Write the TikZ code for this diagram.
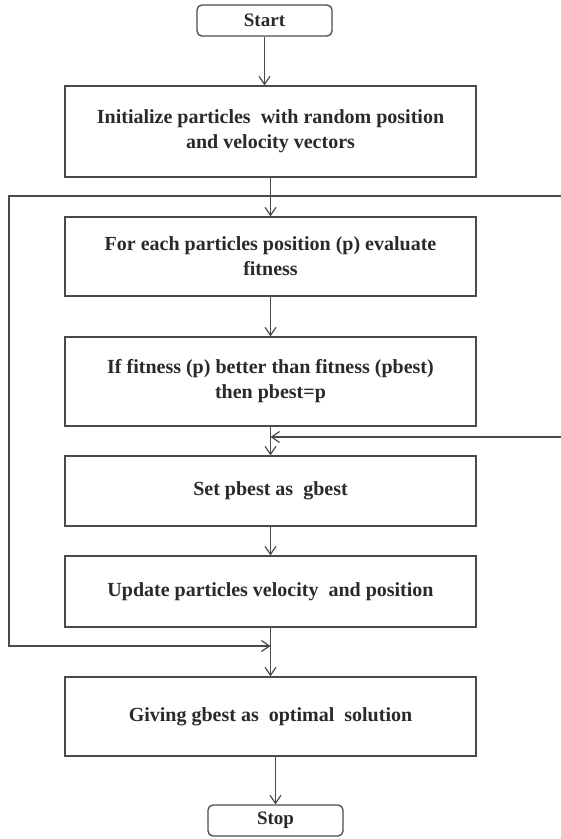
\documentclass[tikz,border=0pt]{standalone}
\usepackage{fontspec}
\setmainfont{Liberation Serif}
\usetikzlibrary{arrows.meta}
\definecolor{linec}{HTML}{4A4A4A}
\definecolor{textc}{HTML}{2A2A2A}
\begin{document}
\begin{tikzpicture}[x=1pt,y=1pt,
  box/.style={draw=linec, line width=1.3pt, minimum width=411pt, align=center, text=textc,
    font=\fontsize{20}{25}\selectfont\bfseries, inner sep=0pt},
  term/.style={draw=linec, line width=1.3pt, rounded corners=5pt, minimum width=135pt, minimum height=31pt,
    text=textc, font=\fontsize{19}{22}\selectfont\bfseries, inner sep=0pt},
  conn/.style={draw=linec, line width=1.2pt, -{Straight Barb[length=8pt,width=11pt,line width=1.2pt]}},
  plain/.style={draw=linec, line width=1.2pt}]
\useasboundingbox (0,0) rectangle (561,-839);
\fill[white] (0,0) rectangle (561,-839);

\node[term] (start) at (264.5,-20.5) {Start};
\node[box, minimum height=91pt] (init) at (270.5,-131.5) {Initialize particles\ \ with random position\\and velocity vectors};
\node[box, minimum height=79pt] (eval) at (270.5,-256.5) {For each particles position (p) evaluate\\fitness};
\node[box, minimum height=89pt] (cmp) at (270.5,-381.5) {If fitness (p) better than fitness (pbest)\\then pbest=p};
\node[box, minimum height=70pt] (setg) at (270.5,-491) {Set pbest as\ \ gbest};
\node[box, minimum height=71pt] (upd) at (270.5,-591.5) {Update particles velocity\ \ and position};
\node[box, minimum height=79pt] (give) at (270.5,-716.5) {Giving gbest as\ \ optimal\ \ solution};
\node[term] (stop) at (275.5,-820.5) {Stop};

\coordinate (jtop) at (270.5,-196);
\coordinate (jmid) at (270.5,-437);
\coordinate (jbot) at (270.5,-646);
\coordinate (ltop) at (9,-196);
\coordinate (lbot) at (9,-646);
\coordinate (rtop) at (563,-196);
\coordinate (rmid) at (563,-437);

\draw[conn] (start.south) -- (start.south |- init.north);
\draw[conn] (init.south) -- (eval.north);
\draw[conn] (eval.south) -- (cmp.north);
\draw[conn] (cmp.south) -- (setg.north);
\draw[conn] (setg.south) -- (upd.north);
\draw[conn] (upd.south) -- (give.north);
\draw[conn] (give.south -| stop.north) -- (stop.north);

\draw[conn] (jtop) -- (ltop) -- (lbot) -- (jbot);
\draw[conn] (jtop) -- (rtop) -- (rmid) -- (jmid);
\end{tikzpicture}
\end{document}
